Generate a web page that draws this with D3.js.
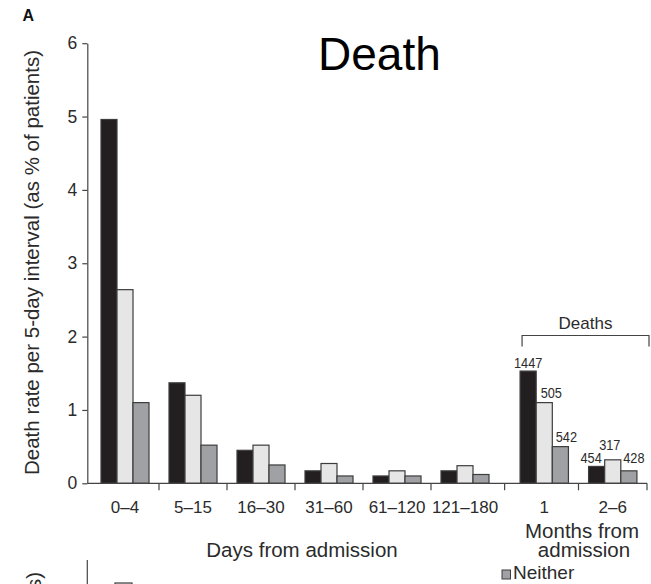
<!DOCTYPE html>
<html>
<head>
<meta charset="utf-8">
<script src="https://cdn.jsdelivr.net/npm/d3@7"></script>
<style>
  body { margin: 0; background: #fff; }
  svg { display: block; font-family: "Liberation Sans", Arial, Helvetica, sans-serif; }
</style>
</head>
<body>
<svg id="chart" width="651" height="584"></svg>
<script>
// Interval categories
const dayCategories = ["0–4", "5–15", "16–30", "31–60", "61–120", "121–180"];
const monthCategories = ["1", "2–6"];

// Death rate per 5-day interval (% of patients), one value per category
const seriesKeys = ["group1", "group2", "neither"];
const group1Rates  = [4.96, 1.37, 0.45, 0.17, 0.10, 0.17, 1.53, 0.23];
const group2Rates  = [2.64, 1.20, 0.52, 0.27, 0.17, 0.24, 1.10, 0.32];
const neitherRates = [1.10, 0.52, 0.25, 0.10, 0.10, 0.12, 0.50, 0.17];

// Number of deaths in the month intervals
const group1Deaths  = [1447, 454];
const group2Deaths  = [505, 317];
const neitherDeaths = [542, 428];

const yTicks = [0, 1, 2, 3, 4, 5, 6];

const fills = { group1: "#231f20", group2: "#e6e6e6", neither: "#a0a1a5" };
const strokeCol = "#3d3d3d";
const axisCol = "#444";
const textCol = "#2b2b2b";

const categories = dayCategories.concat(monthCategories);
const ratesBySeries = { group1: group1Rates, group2: group2Rates, neither: neitherRates };
const deathsBySeries = { group1: group1Deaths, group2: group2Deaths, neither: neitherDeaths };

const svg = d3.select("#chart");

// Scales
const y = d3.scaleLinear().domain([0, 6]).range([483.3, 43.2]);
const xDays = d3.scaleBand().domain(dayCategories).range([91, 499])
  .paddingInner(0.294).paddingOuter(0.147);
const xMonths = d3.scaleBand().domain(monthCategories).range([510, 647])
  .paddingInner(0.294).paddingOuter(0.147);
const bandOf = c => dayCategories.includes(c) ? xDays : xMonths;
const groupLeft = c => bandOf(c)(c);
const groupCenter = c => bandOf(c)(c) + bandOf(c).bandwidth() / 2;

// Bars
const rows = categories.map((c, i) => ({
  cat: c,
  bars: seriesKeys.map(k => ({ key: k, value: ratesBySeries[k][i] }))
}));

const groups = svg.append("g").selectAll("g.grp")
  .data(rows).join("g")
  .attr("class", "grp")
  .attr("transform", d => `translate(${groupLeft(d.cat)},0)`);

groups.each(function (d) {
  const xs = d3.scaleBand().domain(seriesKeys).range([0, bandOf(d.cat).bandwidth()]);
  d3.select(this).selectAll("rect")
    .data(d.bars).join("rect")
    .attr("x", b => xs(b.key))
    .attr("width", xs.bandwidth())
    .attr("y", b => y(b.value))
    .attr("height", b => y(0) - y(b.value))
    .attr("fill", b => fills[b.key])
    .attr("stroke", strokeCol)
    .attr("stroke-width", 1.2);
});

// Y axis
const yAxis = d3.axisLeft(y).tickValues(yTicks).tickFormat(d3.format("d"))
  .tickSize(5).tickSizeOuter(0).tickPadding(5);
const gy = svg.append("g").attr("transform", "translate(87.3,0)").call(yAxis);
gy.select(".domain").attr("stroke", axisCol).attr("stroke-width", 1.2);
gy.selectAll(".tick line").attr("stroke", axisCol).attr("stroke-width", 1.2);
gy.selectAll(".tick text").attr("fill", textCol).attr("font-size", 17.5)
  .attr("font-family", "Liberation Sans, Arial, sans-serif");

// X axis: baseline, boundary ticks between groups, category labels
const centers = categories.map(groupCenter);
const xEnd = xMonths.range()[1];
svg.append("line")
  .attr("x1", 87.3).attr("x2", xEnd)
  .attr("y1", y(0)).attr("y2", y(0))
  .attr("stroke", axisCol).attr("stroke-width", 1.2);

const boundaries = d3.pairs(centers).map(([a, b]) => (a + b) / 2).concat([xEnd]);
svg.append("g").selectAll("line")
  .data(boundaries).join("line")
  .attr("x1", d => d).attr("x2", d => d)
  .attr("y1", y(0)).attr("y2", y(0) + 7)
  .attr("stroke", axisCol).attr("stroke-width", 1.2);

svg.append("g").selectAll("text")
  .data(categories).join("text")
  .attr("x", c => groupCenter(c))
  .attr("y", 513)
  .attr("text-anchor", "middle")
  .attr("font-size", 17)
  .attr("fill", textCol)
  .text(c => c);

// Death counts above the month bars
const labelNudge = {
  group1:  [[0, 3.5], [-5.5, 3.5]],
  group2:  [[7, 5], [-3, 10]],
  neither: [[6, 5], [5, 7.7]]
};
monthCategories.forEach((c, mi) => {
  const i = categories.indexOf(c);
  const xs = d3.scaleBand().domain(seriesKeys).range([0, xMonths.bandwidth()]);
  seriesKeys.forEach(k => {
    const cx = xMonths(c) + xs(k) + xs.bandwidth() / 2 + labelNudge[k][mi][0];
    const cy = y(ratesBySeries[k][i]) - labelNudge[k][mi][1];
    svg.append("text")
      .attr("transform", `translate(${cx},${cy}) scale(0.85,1)`)
      .attr("text-anchor", "middle")
      .attr("font-size", 15)
      .attr("fill", textCol)
      .text(deathsBySeries[k][mi]);
  });
});

// Bracket over the month groups
const bx0 = xMonths(monthCategories[0]) + 2, bx1 = xEnd + 2, by = 335.5;
svg.append("path")
  .attr("d", `M${bx0},${by + 11}V${by}H${bx1}V${by + 11}`)
  .attr("fill", "none").attr("stroke", axisCol).attr("stroke-width", 1.2);
svg.append("text")
  .attr("x", (bx0 + bx1) / 2).attr("y", 329)
  .attr("text-anchor", "middle").attr("font-size", 17).attr("fill", textCol)
  .text("Deaths");

// Axis titles
svg.append("text")
  .attr("transform", "translate(38.5,262.5) rotate(-90)")
  .attr("text-anchor", "middle").attr("font-size", 20.5).attr("fill", textCol)
  .text("Death rate per 5-day interval (as % of patients)");

svg.append("text")
  .attr("x", 302).attr("y", 557)
  .attr("text-anchor", "middle").attr("font-size", 20.5).attr("fill", textCol)
  .text("Days from admission");

const monthTitle = svg.append("text")
  .attr("text-anchor", "middle").attr("font-size", 20.5).attr("fill", textCol);
monthTitle.append("tspan").attr("x", 582).attr("y", 538).text("Months from");
monthTitle.append("tspan").attr("x", 584).attr("y", 557).text("admission");

// Panel letter and title
svg.append("text")
  .attr("x", 22.5).attr("y", 20.5)
  .attr("font-size", 16).attr("font-weight", "bold").attr("fill", "#111")
  .text("A");

svg.append("text")
  .attr("x", 318).attr("y", 70)
  .attr("font-size", 46).attr("fill", "#000")
  .text("Death");

// Top of the next panel
svg.append("line")
  .attr("x1", 87.3).attr("x2", 87.3).attr("y1", 560).attr("y2", 584)
  .attr("stroke", axisCol).attr("stroke-width", 1.2);
svg.append("text")
  .attr("transform", "translate(41,572) rotate(-90)")
  .attr("text-anchor", "end").attr("font-size", 20.5).attr("fill", textCol)
  .text("Readmission rate per 5-day interval (as % of patients)");
svg.append("rect")
  .attr("x", 115).attr("y", 583).attr("width", 17).attr("height", 10)
  .attr("fill", fills.group2).attr("stroke", strokeCol).attr("stroke-width", 1.2);
svg.append("rect")
  .attr("x", 502).attr("y", 570).attr("width", 8.5).attr("height", 9)
  .attr("fill", fills.neither).attr("stroke", strokeCol).attr("stroke-width", 1);
svg.append("text")
  .attr("x", 513).attr("y", 579)
  .attr("font-size", 19).attr("fill", textCol)
  .text("Neither");
</script>
</body>
</html>
